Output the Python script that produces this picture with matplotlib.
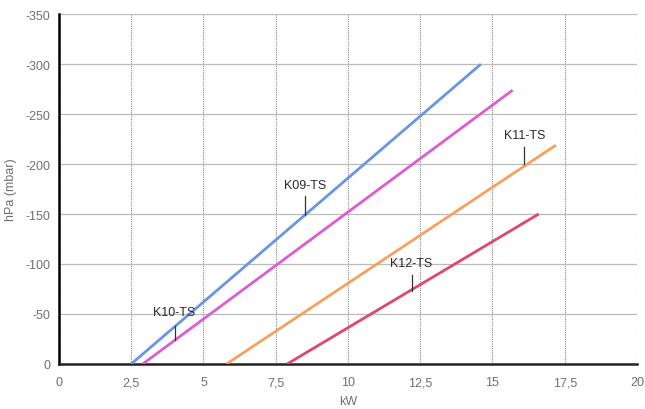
import matplotlib
matplotlib.use("Agg")
from matplotlib import pyplot as plt
from matplotlib.ticker import FuncFormatter

plt.rcParams['axes.unicode_minus'] = False
plt.rcParams['font.family'] = ['Liberation Sans', 'DejaVu Sans']

# curves: start / end points (kW, hPa)
names = ["K09-TS", "K10-TS", "K11-TS", "K12-TS"]
kw_start = [2.5, 2.9, 5.8, 7.9]
kw_end = [14.6, 15.7, 17.2, 16.6]
hpa_start = [0, 0, 0, 0]
hpa_end = [-300, -274, -219, -150]
colors = ["#6a95e0", "#de5cd2", "#f4a25e", "#e0466e"]

# labels: text position and pointer line
lab_x = [8.5, 4.0, 16.1, 12.2]
lab_y = [-179, -52, -229, -101]
ptr_top = [-168, -38, -217, -89]
ptr_bot = [-149, -24, -200, -73]

xticks = [0, 2.5, 5, 7.5, 10, 12.5, 15, 17.5, 20]
yticks = [0, -50, -100, -150, -200, -250, -300, -350]

fig = plt.figure(figsize=(6.45, 4.1), dpi=100)
ax = fig.add_axes([0.0915, 0.11, 0.896, 0.853])

for i in range(len(names)):
    ax.plot([kw_start[i], kw_end[i]], [hpa_start[i], hpa_end[i]],
            color=colors[i], lw=2, solid_capstyle='butt', zorder=3)
    ax.text(lab_x[i], lab_y[i], names[i], ha='center', va='center',
            fontsize=9, color='#2a2a2a', zorder=4)
    ax.plot([lab_x[i], lab_x[i]], [ptr_top[i], ptr_bot[i]],
            color='#333333', lw=0.9, zorder=4)

ax.set_xlim(0, 20)
ax.set_ylim(0, -350)
ax.set_xticks(xticks)
ax.set_yticks(yticks)
ax.xaxis.set_major_formatter(FuncFormatter(lambda v, p: ('%g' % v).replace('.', ',')))
ax.tick_params(length=0, labelsize=9, labelcolor='#707070', pad=6)
ax.tick_params(axis='x', pad=9)

ax.yaxis.grid(True, color='#bbbbbb', lw=0.9, ls='-')
ax.xaxis.grid(True, color='#888888', lw=0.8, ls=(0, (1, 1)))
ax.set_axisbelow(True)

for s in ['top', 'right']:
    ax.spines[s].set_visible(False)
ax.spines['left'].set_color('black')
ax.spines['left'].set_linewidth(1.8)
ax.spines['bottom'].set_color('#222222')
ax.spines['bottom'].set_linewidth(1.8)

ax.set_xlabel("kW", fontsize=9, color='#707070', labelpad=5)
ax.set_ylabel("hPa (mbar)", fontsize=9, color='#707070', labelpad=6)

fig.savefig("out.png", dpi=100)
